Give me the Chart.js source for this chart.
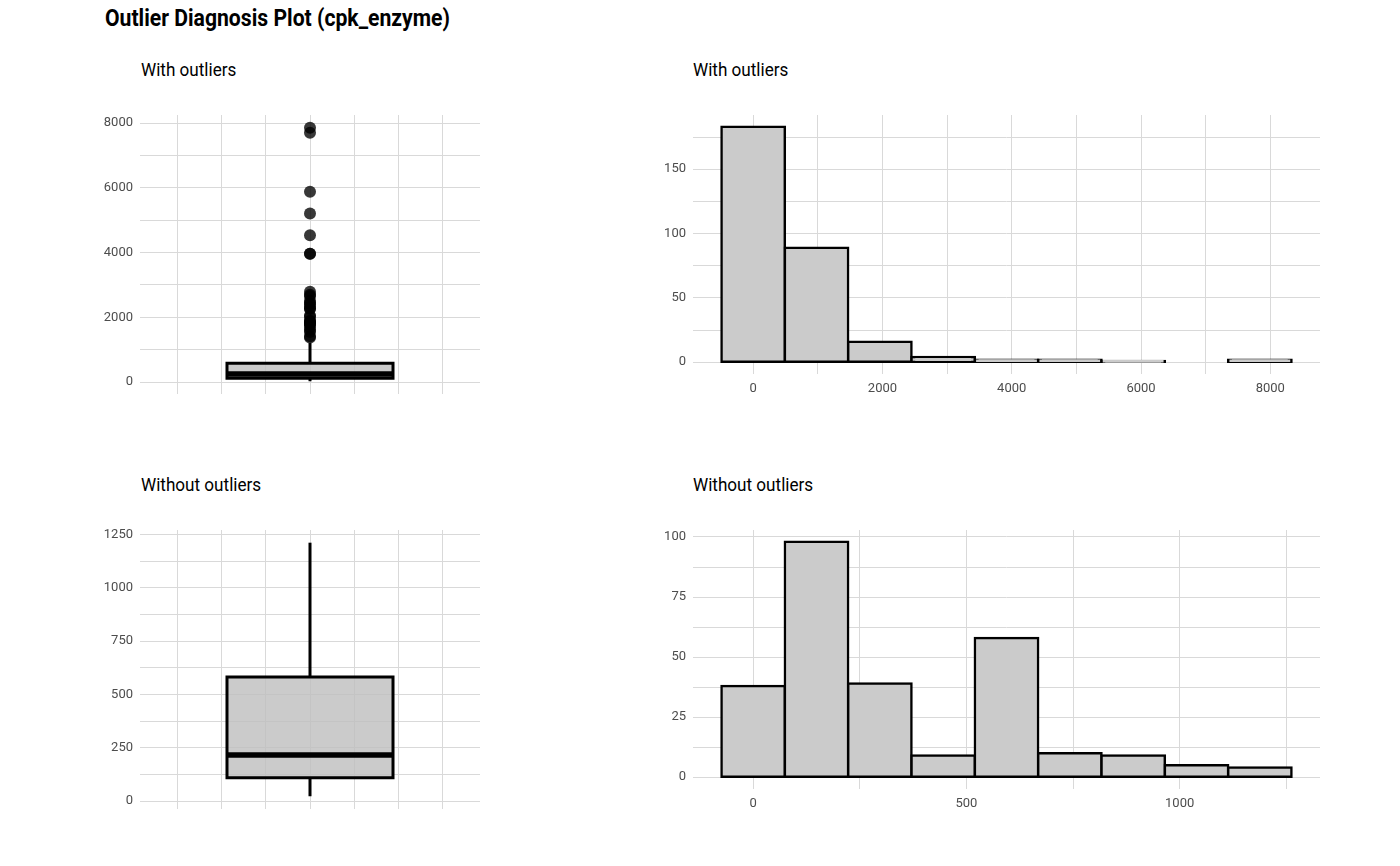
<!DOCTYPE html>
<html>
<head>
<meta charset="utf-8">
<script src="https://cdn.jsdelivr.net/npm/chart.js@4.4.1/dist/chart.umd.min.js"></script>
<style>
  html, body { margin: 0; padding: 0; background: #ffffff; }
  body { width: 1400px; height: 866px; position: relative; overflow: hidden;
         font-family: 'Roboto', 'DejaVu Sans Condensed', sans-serif; }
  .txt { position: absolute; white-space: nowrap; color: #000; line-height: 1; transform-origin: 0 50%; }
  #mainTitle { left: 105px; top: 7px; font-size: 23px; font-weight: bold; transform: scaleX(0.92); }
  .sub { font-size: 19px; transform: scaleX(0.9); }
  canvas { position: absolute; }
</style>
</head>
<body>
<div id="mainTitle" class="txt">Outlier Diagnosis Plot (cpk_enzyme)</div>
<div class="txt sub" style="left:141px;top:60px;">With outliers</div>
<div class="txt sub" style="left:693px;top:60px;">With outliers</div>
<div class="txt sub" style="left:141px;top:475px;">Without outliers</div>
<div class="txt sub" style="left:693px;top:475px;">Without outliers</div>
<canvas id="boxWith"></canvas>
<canvas id="histWith"></canvas>
<canvas id="boxWithout"></canvas>
<canvas id="histWithout"></canvas>
<script>
// ---------------- DATA ----------------
// Box plot statistics: [lower whisker, Q1, median, Q3, upper whisker]
const boxStatsWith    = [23, 116, 250, 582, 1211];
const boxStatsWithout = [23, 110, 217, 582, 1211];
// Points beyond the whiskers (with-outliers panel)
const outlierValues = [7861, 7702, 5882, 5209, 4540, 3966, 3964,
  2794, 2695, 2656, 2522, 2442, 2413, 2334, 2281, 2261, 2060, 2017,
  1896, 1876, 1846, 1820, 1808, 1767, 1688, 1610, 1548, 1419, 1380];
// Histogram bins (centers) and counts
const histWithCenters = [0, 979.75, 1959.5, 2939.25, 3919, 4898.75, 5878.5, 6858.25, 7838];
const histWithCounts  = [183, 89, 16, 4, 2, 2, 1, 0, 2];
const histWithoutCenters = [0, 148.5, 297, 445.5, 594, 742.5, 891, 1039.5, 1188];
const histWithoutCounts  = [38, 98, 39, 9, 58, 10, 9, 5, 4];
// Tick values (major = labelled, minor = grid only)
const boxWithYMajor = [0, 2000, 4000, 6000, 8000];
const boxWithYMinor = [1000, 3000, 5000, 7000];
const boxWithoutYMajor = [0, 250, 500, 750, 1000, 1250];
const boxWithoutYMinor = [125, 375, 625, 875, 1125];
const boxXMajor = [-0.4, 0, 0.4];
const boxXMinor = [-0.6, -0.2, 0.2, 0.6];
const histWithXMajor = [0, 2000, 4000, 6000, 8000];
const histWithXMinor = [1000, 3000, 5000, 7000];
const histWithYMajor = [0, 50, 100, 150];
const histWithYMinor = [25, 75, 125, 175];
const histWithoutXMajor = [0, 500, 1000];
const histWithoutXMinor = [250, 750, 1250];
const histWithoutYMajor = [0, 25, 50, 75, 100];
const histWithoutYMinor = [12.5, 37.5, 62.5, 87.5];

// ---------------- STYLE ----------------
const FONT = "'Roboto', sans-serif";
const GRID = '#d9d9d9';
const TICK = '#4d4d4d';
const FILL = 'rgba(190,190,190,0.8)';
const BAR_FILL = '#cbcbcb';
const BOX_HALF = 0.375;

function expand(lo, hi, f) { const d = (hi - lo) * f; return [lo - d, hi + d]; }

function axis(major, minor, range, showLabels, fixedSize, isY) {
  const all = major.concat(minor).sort((a, b) => a - b);
  return {
    type: 'linear',
    offset: false,
    min: range[0], max: range[1],
    border: { display: false },
    grid: { color: GRID, lineWidth: 1, drawTicks: false, offset: false },
    ticks: {
      display: showLabels,
      padding: 7,
      color: TICK,
      font: { family: FONT, size: 13 },
      callback: (v) => major.some(m => Math.abs(m - v) < 1e-9) ? String(v) : ''
    },
    afterBuildTicks: (s) => { s.ticks = all.map(v => ({ value: v })); },
    afterFit: (s) => { if (isY) s.width = fixedSize; else s.height = fixedSize; }
  };
}

function place(canvas, area, xAxisH) {
  const left = area.l - 70, top = area.t - 20;
  const w = area.r - left + 10, h = area.b - top + 40;
  canvas.width = w; canvas.height = h;
  canvas.style.left = left + 'px'; canvas.style.top = top + 'px';
  canvas.style.width = w + 'px'; canvas.style.height = h + 'px';
  return { top: 20, right: 10, bottom: 40 - xAxisH, left: 0 };
}

const commonPlugins = { legend: { display: false }, tooltip: { enabled: false }, title: { display: false } };

function boxChart(id, area, stats, outs, yMajor, yMinor) {
  const c = document.getElementById(id);
  const padding = place(c, area, 0);
  const allVals = stats.concat(outs);
  const yr = expand(Math.min(...allVals), Math.max(...allVals), 0.05);
  const [lo, q1, med, q3, hi] = stats;
  const datasets = [
    { type: 'scatter', data: outs.map(v => ({ x: 0, y: v })), pointRadius: 6, pointHoverRadius: 6,
      backgroundColor: 'rgba(0,0,0,0.78)', borderWidth: 0, order: 0 },
    { type: 'line', data: [{ x: -BOX_HALF, y: med }, { x: BOX_HALF, y: med }], borderColor: '#000',
      borderWidth: 5.5, pointRadius: 0, fill: false, order: 1, borderCapStyle: 'butt' },
    { type: 'line', data: [{ x: 0, y: q3 }, { x: 0, y: hi }], borderColor: '#000', borderWidth: 3,
      pointRadius: 0, fill: false, order: 2 },
    { type: 'line', data: [{ x: 0, y: q1 }, { x: 0, y: lo }], borderColor: '#000', borderWidth: 3,
      pointRadius: 0, fill: false, order: 2 },
    { type: 'line', data: [{ x: -BOX_HALF, y: q1 }, { x: -BOX_HALF, y: q3 }, { x: BOX_HALF, y: q3 },
      { x: BOX_HALF, y: q1 }, { x: -BOX_HALF, y: q1 }], borderColor: '#000', borderWidth: 3,
      backgroundColor: FILL, fill: 'shape', pointRadius: 0, order: 3, tension: 0,
      borderJoinStyle: 'miter', borderCapStyle: 'square' }
  ];
  return new Chart(c, {
    type: 'scatter',
    data: { datasets },
    options: {
      responsive: false, animation: false, devicePixelRatio: 1,
      layout: { padding },
      plugins: commonPlugins,
      scales: {
        x: axis(boxXMajor, boxXMinor, [-0.768, 0.768], false, 0, false),
        y: axis(yMajor, yMinor, yr, true, 70, true)
      }
    }
  });
}

function histChart(id, area, centers, counts, xMajor, xMinor, yMajor, yMinor) {
  const c = document.getElementById(id);
  const padding = place(c, area, 30);
  const bw = centers[1] - centers[0];
  const xr = expand(centers[0] - bw / 2, centers[centers.length - 1] + bw / 2, 0.05);
  const yr = expand(0, Math.max(...counts), 0.05);
  return new Chart(c, {
    type: 'bar',
    data: { datasets: [{
      data: centers.map((x, i) => ({ x, y: counts[i] })),
      backgroundColor: BAR_FILL, borderColor: '#000', borderWidth: 2.5, borderSkipped: false,
      inflateAmount: 1.25, barPercentage: 1, categoryPercentage: 1, grouped: false
    }] },
    options: {
      responsive: false, animation: false, devicePixelRatio: 1,
      layout: { padding },
      plugins: commonPlugins,
      scales: {
        x: axis(xMajor, xMinor, xr, true, 30, false),
        y: axis(yMajor, yMinor, yr, true, 70, true)
      }
    }
  });
}

boxChart('boxWith', { l: 140, t: 115, r: 480, b: 394 }, boxStatsWith, outlierValues, boxWithYMajor, boxWithYMinor);
histChart('histWith', { l: 693, t: 115, r: 1320, b: 374 }, histWithCenters, histWithCounts,
  histWithXMajor, histWithXMinor, histWithYMajor, histWithYMinor);
boxChart('boxWithout', { l: 140, t: 530, r: 480, b: 809 }, boxStatsWithout, [], boxWithoutYMajor, boxWithoutYMinor);
histChart('histWithout', { l: 693, t: 530, r: 1320, b: 789 }, histWithoutCenters, histWithoutCounts,
  histWithoutXMajor, histWithoutXMinor, histWithoutYMajor, histWithoutYMinor);
</script>
</body>
</html>
